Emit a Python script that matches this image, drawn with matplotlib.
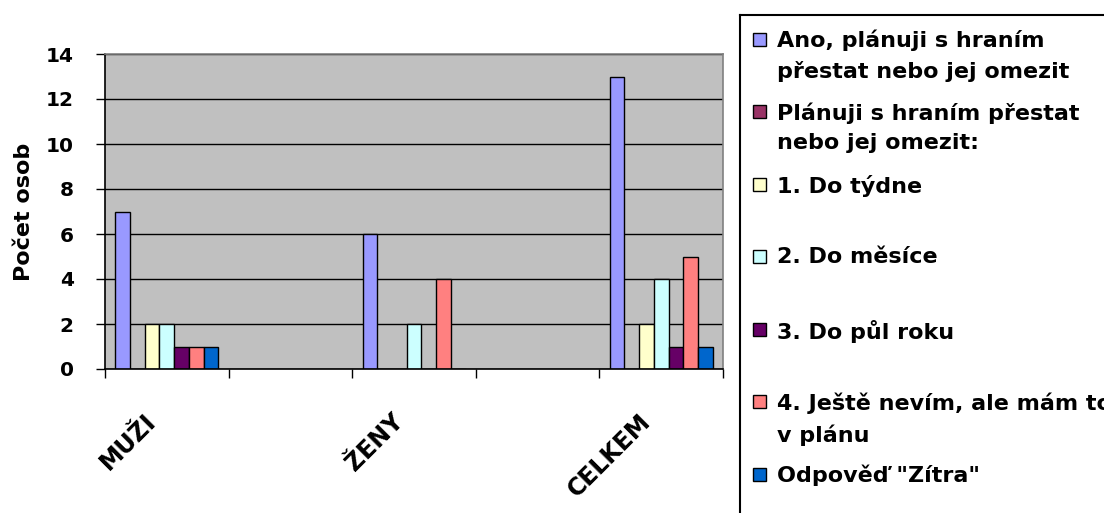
import matplotlib
matplotlib.use("Agg")
import matplotlib.pyplot as plt
import matplotlib.transforms as mtransforms
from matplotlib.patches import Rectangle
import numpy as np

plt.rcParams['font.family'] = ['DejaVu Sans']
plt.rcParams['font.weight'] = 'bold'

# Data
categories = ["MUŽI", "ŽENY", "CELKEM"]
series_names = [
    "Ano, plánuji s hraním\npřestat nebo jej omezit",
    "Plánuji s hraním přestat\nnebo jej omezit:",
    "1. Do týdne",
    "2. Do měsíce",
    "3. Do půl roku",
    "4. Ještě nevím, ale mám to\nv plánu",
    "Odpověď \"Zítra\"",
]
ano = [7, 6, 13]
planuji = [0, 0, 0]
do_tydne = [2, 0, 2]
do_mesice = [2, 2, 4]
do_pul_roku = [1, 0, 1]
jeste_nevim = [1, 4, 5]
zitra = [1, 0, 1]
series_values = [ano, planuji, do_tydne, do_mesice, do_pul_roku, jeste_nevim, zitra]
colors = ["#9999FF", "#993366", "#FFFFCC", "#CCFFFF", "#660066", "#FF8080", "#0066CC"]

W, H = 1104, 513
fig = plt.figure(figsize=(W / 100, H / 100), dpi=100)

# plot area in pixels
left, right, top, bottom = 105, 723, 54, 369
ax = fig.add_axes([left / W, 1 - bottom / H, (right - left) / W, (bottom - top) / H])
ax.set_facecolor("#C0C0C0")

# categories sit in every other slot (empty slots between them)
x = np.arange(len(categories)) * 2
n = len(series_values)
bw = 1 / (n + 1.4)
start = -n * bw / 2
for i, (vals, col) in enumerate(zip(series_values, colors)):
    ax.bar(x + start + (i + 0.5) * bw, vals, width=bw, color=col,
           edgecolor="black", linewidth=1.0, zorder=2)

ax.set_xlim(-0.5, 2 * len(categories) - 1.5)
ax.set_ylim(0, 14)
ax.set_yticks(np.arange(0, 15, 2))
ax.yaxis.grid(True, color="black", linewidth=1.0)
ax.set_axisbelow(True)

ax.tick_params(axis="y", direction="out", length=6.5, width=1, pad=16, labelsize=14.5)
ax.set_xticks(np.arange(-0.5, 2 * len(categories) - 1, 1.0))
ax.set_xticklabels([])
ax.tick_params(axis="x", which="major", direction="out", length=6.5, width=1)
ax.set_xticks(x, categories, minor=True)
ax.tick_params(axis="x", which="minor", length=0, pad=29, labelsize=17)
offset = mtransforms.ScaledTranslation(-23 / 100, 0, fig.dpi_scale_trans)
for lab in ax.get_xticklabels(minor=True):
    lab.set_rotation(45)
    lab.set_ha("right")
    lab.set_rotation_mode("anchor")
    lab.set_transform(lab.get_transform() + offset)

for s in ["left", "bottom"]:
    ax.spines[s].set_color("black")
    ax.spines[s].set_linewidth(1.2)
for s in ["top", "right"]:
    ax.spines[s].set_color("#808080")
    ax.spines[s].set_linewidth(1.2)

ax.set_ylabel("Počet osob", fontsize=16, fontweight="bold")
ax.yaxis.set_label_coords(-0.115, 0.5)

# legend drawn in a pixel-based axes (box runs past figure edge)
lx0, lx1, ly0, ly1 = 740, W + 20, 15, H + 20
lax = fig.add_axes([lx0 / W, 1 - ly1 / H, (lx1 - lx0) / W, (ly1 - ly0) / H])
lax.set_xlim(lx0, lx1)
lax.set_ylim(ly1, ly0)
lax.set_xticks([])
lax.set_yticks([])
for s in lax.spines.values():
    s.set_color("black")
    s.set_linewidth(1.5)
slot = 72.5
for i, (name, col) in enumerate(zip(series_names, colors)):
    yc = 39 + i * slot
    lax.add_patch(Rectangle((753, yc - 6.5), 13, 13, facecolor=col,
                            edgecolor="black", linewidth=1.0))
    lax.text(777, yc - 9.4, name, fontsize=16, fontweight="bold",
             va="top", ha="left", linespacing=1.6, clip_on=False)

fig.savefig("out.png", dpi=100)
